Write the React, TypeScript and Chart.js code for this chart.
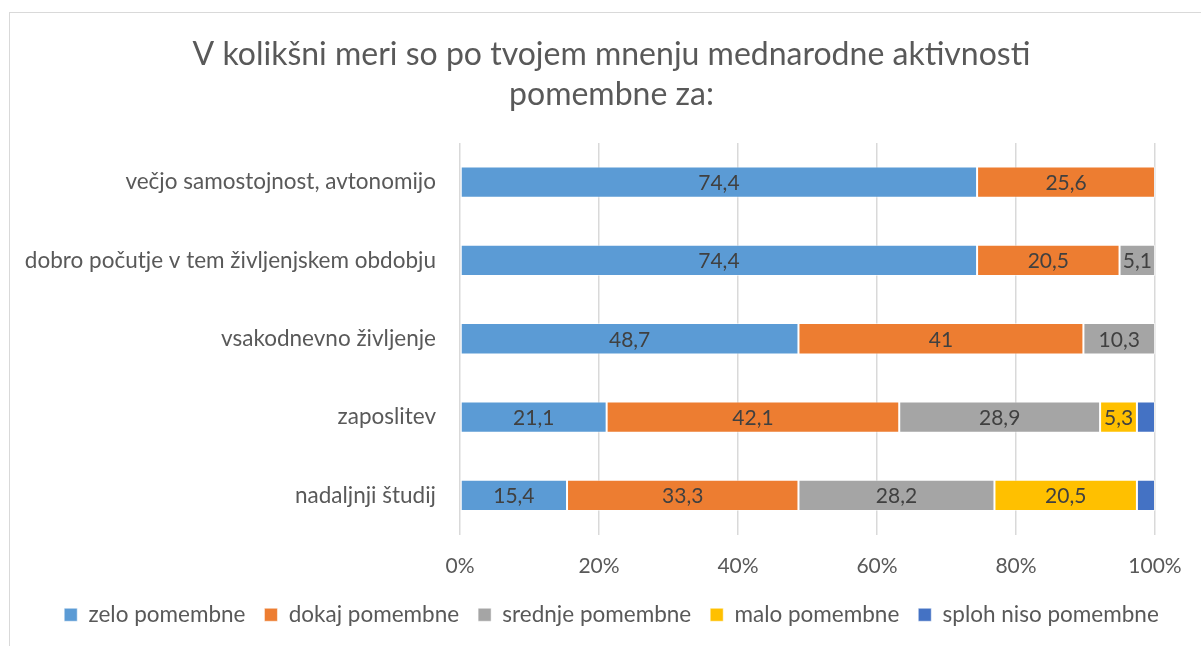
import React, { useEffect, useRef } from "react";
import { Chart, registerables } from "chart.js";

Chart.register(...registerables);

const TITLE_LINES = ["V kolikšni meri so po tvojem mnenju mednarodne aktivnosti", "pomembne za:"];
const CATEGORIES = [
  "večjo samostojnost, avtonomijo",
  "dobro počutje v tem življenjskem obdobju",
  "vsakodnevno življenje",
  "zaposlitev",
  "nadaljnji študij",
];
const SERIES_NAMES = ["zelo pomembne", "dokaj pomembne", "srednje pomembne", "malo pomembne", "sploh niso pomembne"];
const ZELO = [74.4, 74.4, 48.7, 21.1, 15.4];
const DOKAJ = [25.6, 20.5, 41, 42.1, 33.3];
const SREDNJE = [0, 5.1, 10.3, 28.9, 28.2];
const MALO = [0, 0, 0, 5.3, 20.5];
const SPLOH = [0, 0, 0, 2.6, 2.6];
const COLORS = ["#5B9BD5", "#ED7D31", "#A5A5A5", "#FFC000", "#4472C4"];
const X_TICKS = [0, 20, 40, 60, 80, 100];

const FONT = "Lato, 'Open Sans', sans-serif";

const dataLabels = {
  id: "dataLabels",
  afterDatasetsDraw(chart: any) {
    const ctx = chart.ctx;
    ctx.save();
    ctx.font = `21px ${FONT}`;
    ctx.fillStyle = "#404040";
    ctx.textAlign = "center";
    ctx.textBaseline = "middle";
    chart.data.datasets.forEach((ds: any, di: number) => {
      const meta = chart.getDatasetMeta(di);
      meta.data.forEach((el: any, i: number) => {
        const v = ds.data[i];
        if (!v || v < 3) return;
        const cx = (el.x + el.base) / 2;
        ctx.fillText(String(v).replace(".", ","), cx, el.y + 1);
      });
    });
    ctx.restore();
  },
};

export default function App() {
  const ref = useRef<HTMLCanvasElement>(null);
  useEffect(() => {
    if (!ref.current) return;
    const seriesData = [ZELO, DOKAJ, SREDNJE, MALO, SPLOH];
    const chart = new Chart(ref.current, {
      type: "bar",
      data: {
        labels: CATEGORIES,
        datasets: SERIES_NAMES.map((name, i) => ({
          label: name,
          data: seriesData[i],
          backgroundColor: COLORS[i],
          borderColor: "rgba(255,255,255,0.5)",
          borderWidth: 1,
          borderSkipped: false,
          barPercentage: 0.8,
          categoryPercentage: 0.5,
          xAxisID: "x",
          yAxisID: "y",
        })),
      },
      options: {
        indexAxis: "y",
        animation: false,
        responsive: false,
        devicePixelRatio: 1,
        layout: { padding: { left: 22, right: 0, top: 0, bottom: 10 } },
        plugins: {
          title: {
            display: true,
            text: TITLE_LINES,
            color: "#595959",
            font: { family: FONT, size: 32, weight: "normal", lineHeight: 1.25 },
            padding: { top: 35, bottom: 28 },
          },
          legend: {
            position: "bottom",
            labels: {
              color: "#595959",
              font: { family: FONT, size: 22.5 },
              boxWidth: 13,
              boxHeight: 13,
              padding: 19,
            },
          },
          tooltip: { enabled: false },
        },
        scales: {
          x: {
            stacked: true,
            min: 0,
            max: 100,
            afterBuildTicks: (s: any) => {
              s.ticks = X_TICKS.map((v) => ({ value: v }));
            },
            ticks: {
              color: "#595959",
              font: { family: FONT, size: 21 },
              padding: 19,
              callback: (v: any) => v + "%",
            },
            grid: { color: "#d9d9d9", lineWidth: 1.5, drawTicks: false },
            border: { display: false },
            afterFit: (s: any) => {
              s.height = 50;
            },
          },
          y: {
            stacked: true,
            ticks: {
              color: "#595959",
              font: { family: FONT, size: 22.5 },
              padding: 16,
            },
            grid: { display: false },
            border: { display: false },
            afterFit: (s: any) => {
              s.width = 438;
            },
          },
          y2: {
            position: "right",
            type: "linear",
            display: true,
            ticks: { display: false },
            grid: { display: false },
            border: { display: false },
            afterFit: (s: any) => {
              s.width = 46;
            },
          },
        },
      },
      plugins: [dataLabels],
    });
    return () => chart.destroy();
  }, []);

  return (
    <div style={{ position: "absolute", left: 0, top: 0, width: 1201, height: 646, overflow: "hidden", background: "#fff" }}>
      <div
        style={{
          position: "absolute",
          left: 9,
          top: 12,
          width: 1400,
          height: 800,
          border: "1px solid #d9d9d9",
          boxSizing: "border-box",
        }}
      />
      <canvas ref={ref} width={1201} height={646} style={{ position: "absolute", left: 0, top: 0 }} />
    </div>
  );
}
